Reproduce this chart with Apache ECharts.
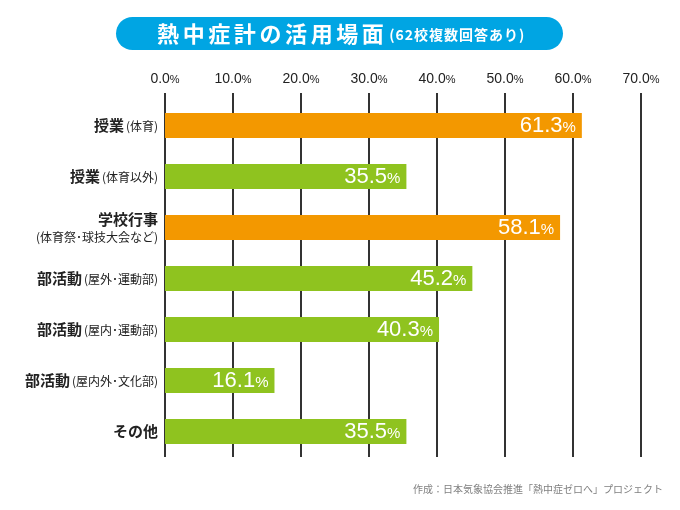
<!DOCTYPE html>
<html><head><meta charset="utf-8">
<script src="https://cdn.jsdelivr.net/npm/echarts@6/dist/echarts.min.js"></script>
<style>html,body{margin:0;padding:0;background:#fff;}#c{width:680px;height:510px;}</style>
</head><body><div id="c"></div>
<script>
const categories = [
  '授業(体育)',
  '授業(体育以外)',
  '学校行事\n(体育祭･球技大会など)',
  '部活動(屋外･運動部)',
  '部活動(屋内･運動部)',
  '部活動(屋内外･文化部)',
  'その他'
];
const values = [61.3, 35.5, 58.1, 45.2, 40.3, 16.1, 35.5];
const peRelated = [true, false, true, false, false, false, false];
const xTicks = [0, 10, 20, 30, 40, 50, 60, 70];
const titleMain = '熱中症計の活用場面';
const titleSub = '(62校複数回答あり)';
const source = '作成：日本気象協会推進「熱中症ゼロへ」プロジェクト';

const ORANGE = '#F39800', GREEN = '#8FC31F', LINE = '#333333';
const jp = '"Noto Sans CJK JP", sans-serif';
const num = '"Liberation Sans", Arial, sans-serif';

const chart = echarts.init(document.getElementById('c'), null, {renderer: 'canvas'});
const spaced = (s, tag) => Array.from(s).map(ch => '{' + tag + '|' + ch + '}').join('');
chart.setOption({
  animation: false,
  backgroundColor: '#fff',
  graphic: [{
    type: 'rect', z: 0,
    shape: {x: 116, y: 17, width: 447, height: 33, r: 16.5},
    style: {fill: '#00A5E3'}
  }],
  title: [{
    text: spaced(titleMain, 'm') + '{g|}' + spaced(titleSub, 's'),
    left: 'center', top: 20, padding: 0,
    textStyle: {
      rich: {
        m: {fontFamily: jp, fontSize: 22, fontWeight: 'bold', color: '#fff', lineHeight: 27, padding: [0, 1.8, 0, 1.8]},
        g: {width: 3},
        s: {fontFamily: jp, fontSize: 14, fontWeight: 'bold', color: '#fff', lineHeight: 27, padding: [3, 0.5, 0, 0.5]}
      }
    }
  }, {
    text: source, right: 17, top: 484, padding: 0,
    textStyle: {fontFamily: jp, fontSize: 10, fontWeight: 'normal', color: '#808080'}
  }],
  grid: {left: 165, right: 39, top: 100, height: 357, containLabel: false},
  xAxis: {
    type: 'value', position: 'top', min: 0, max: 70, interval: 10,
    axisLine: {show: false},
    axisTick: {show: true, inside: false, length: 7, lineStyle: {color: LINE, width: 2}},
    splitLine: {show: true, lineStyle: {color: LINE, width: 2}},
    axisLabel: {
      margin: 14,
      formatter: v => xTicks.includes(v) ? '{n|' + v.toFixed(1) + '}{p|%}' : '',
      rich: {
        n: {fontFamily: num, fontSize: 14, color: '#222'},
        p: {fontFamily: num, fontSize: 11, color: '#222', padding: [2, 0, 0, 0]}
      }
    }
  },
  yAxis: {
    type: 'category', data: categories, inverse: true,
    axisLine: {show: false}, axisTick: {show: false},
    axisLabel: {
      margin: 7, align: 'right',
      formatter: name => name.split('\n').map(line => {
        const i = line.indexOf('(');
        if (i === 0) return '{s|' + line + '}';
        if (i > 0) return '{m|' + line.slice(0, i) + '}{s|' + line.slice(i) + '}';
        return '{m|' + line + '}';
      }).join('\n'),
      rich: {
        m: {fontFamily: jp, fontSize: 15, fontWeight: 'bold', color: '#222', lineHeight: 17},
        s: {fontFamily: jp, fontSize: 12, fontWeight: 'normal', color: '#222', lineHeight: 16, padding: [2, 0, 0, 2]}
      }
    }
  },
  series: [{
    type: 'bar', data: values, barWidth: 25,
    itemStyle: {color: p => peRelated[p.dataIndex] ? ORANGE : GREEN},
    label: {
      show: true, position: 'insideRight', distance: 6,
      formatter: p => '{n|' + p.value.toFixed(1) + '}{p|%}',
      rich: {
        n: {fontFamily: num, fontSize: 22, color: '#fff'},
        p: {fontFamily: num, fontSize: 15, color: '#fff', padding: [4, 0, 0, 0]}
      }
    }
  }]
});
</script></body></html>
